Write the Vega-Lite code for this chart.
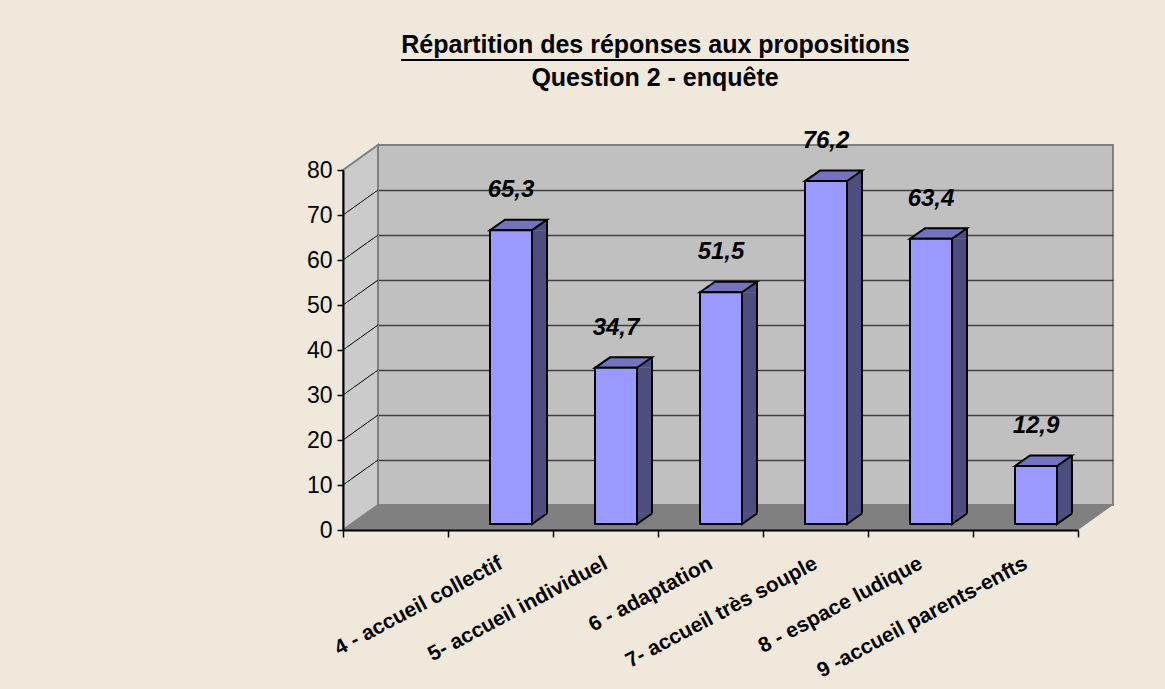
{
  "$schema": "https://vega.github.io/schema/vega-lite/v6.json",
  "width": 735,
  "height": 360,
  "autosize": {"type": "none"},
  "padding": {"left": 378, "top": 145, "right": 52, "bottom": 184},
  "background": "#F0E8DA",
  "config": {
    "view": {"fill": "#C0C0C0", "stroke": "#808080", "strokeWidth": 2},
    "font": "Liberation Sans",
    "locale": {"number": {"decimal": ",", "thousands": " ", "grouping": [3], "currency": ["", " €"]}}
  },
  "title": {
    "text": "Répartition des réponses aux propositions",
    "font": "Liberation Sans",
    "fontSize": 25,
    "fontWeight": "bold",
    "color": "#000000",
    "anchor": "middle",
    "frame": "group",
    "dx": -90,
    "offset": -2
  },
  "data": {
    "values": [
      {"cat": "4 - accueil collectif", "value": 65.3},
      {"cat": "5- accueil individuel", "value": 34.7},
      {"cat": "6 - adaptation", "value": 51.5},
      {"cat": "7- accueil très souple", "value": 76.2},
      {"cat": "8 - espace ludique", "value": 63.4},
      {"cat": "9 -accueil parents-enfts", "value": 12.9}
    ]
  },
  "layer": [
    {
      "mark": {"type": "rule", "opacity": 0},
      "encoding": {
        "y": {
          "datum": 0,
          "type": "quantitative",
          "scale": {"domain": [0, 80], "nice": false},
          "axis": {
            "orient": "left",
            "grid": true,
            "values": [10, 20, 30, 40, 50, 60, 70],
            "gridColor": "#404040",
            "gridWidth": 1.5,
            "labels": false,
            "ticks": false,
            "domain": false,
            "title": null
          }
        }
      }
    },
    {
      "encoding": {
        "x": {
          "field": "cat",
          "type": "nominal",
          "sort": null,
          "scale": {
            "domain": [" ", "4 - accueil collectif", "5- accueil individuel", "6 - adaptation", "7- accueil très souple", "8 - espace ludique", "9 -accueil parents-enfts"],
            "range": [-35, 700],
            "paddingInner": 0,
            "paddingOuter": 0
          },
          "axis": {
            "title": null,
            "orient": "bottom",
            "offset": 25,
            "tickBand": "extent",
            "labelAngle": -28,
            "labelAlign": "right",
            "labelBaseline": "middle",
            "labelFont": "Liberation Sans",
            "labelFontWeight": "bold",
            "labelFontSize": 21,
            "labelColor": "#000000",
            "labelPadding": 25,
            "labelLimit": 0,
            "labelOverlap": false,
            "domainColor": "#000000",
            "domainWidth": 2,
            "tickColor": "#000000",
            "tickSize": 7,
            "tickWidth": 1.5,
            "zindex": 1
          }
        },
        "y": {
          "field": "value",
          "type": "quantitative",
          "scale": {"domain": [0, 80], "range": [385, 25], "nice": false},
          "axis": {
            "orient": "left",
            "offset": 35,
            "title": null,
            "grid": false,
            "values": [0, 10, 20, 30, 40, 50, 60, 70, 80],
            "labelFont": "Liberation Sans",
            "labelFontSize": 23,
            "labelColor": "#000000",
            "labelPadding": 5,
            "domainColor": "#000000",
            "domainWidth": 2,
            "tickColor": "#000000",
            "tickSize": 6,
            "tickWidth": 1.5,
            "zindex": 1
          }
        }
      },
      "layer": [
        {
          "transform": [{"filter": {"field": "cat", "equal": "4 - accueil collectif"}}],
          "mark": {"type": "point", "shape": "M-157.5,0L-122.5,-25L612.5,-25L577.5,0Z", "size": 4, "filled": true, "fill": "#808080", "strokeWidth": 0, "opacity": 1},
          "encoding": {"y": {"datum": 0}}
        },
        {
          "transform": [{"filter": {"field": "cat", "equal": "4 - accueil collectif"}}],
          "mark": {"type": "point", "shape": "M-157.5,0L-122.5,-25L-122.5,-385L-157.5,-360Z", "size": 4, "filled": true, "fill": "#CBCBCB", "stroke": "#808080", "strokeWidth": 2, "opacity": 1},
          "encoding": {"y": {"datum": 0}}
        },
        {
          "transform": [{"filter": {"field": "cat", "equal": "4 - accueil collectif"}}],
          "mark": {"type": "point", "shape": "M-157.5,-45L-122.5,-70M-157.5,-90L-122.5,-115M-157.5,-135L-122.5,-160M-157.5,-180L-122.5,-205M-157.5,-225L-122.5,-250M-157.5,-270L-122.5,-295M-157.5,-315L-122.5,-340", "size": 4, "filled": false, "stroke": "#000000", "strokeWidth": 1, "opacity": 1},
          "encoding": {"y": {"datum": 0}}
        },
        {
          "transform": [{"filter": {"field": "cat", "equal": "4 - accueil collectif"}}],
          "mark": {"type": "point", "shape": "M-99.5,-110L408.5,-110", "size": 4, "filled": false, "stroke": "#000000", "strokeWidth": 2, "opacity": 1},
          "encoding": {"y": {"datum": 80}}
        },
        {
          "transform": [{"filter": {"field": "cat", "equal": "4 - accueil collectif"}}],
          "mark": {"type": "text", "text": "Question 2 - enquête", "dx": 154.5, "dy": -84, "baseline": "alphabetic", "align": "center", "font": "Liberation Sans", "fontSize": 25, "fontWeight": "bold", "color": "#000000"},
          "encoding": {"y": {"datum": 80}}
        },
        {
          "mark": {"type": "bar", "width": 15, "xOffset": 39, "yOffset": -6, "y2Offset": -16.5, "fill": "#4D4D80", "strokeWidth": 0},
          "encoding": {"y2": {"datum": 0}}
        },
        {
          "mark": {"type": "point", "shape": "M31.5,-6L46.5,-16.5L46.5,-6Z", "size": 4, "filled": true, "fill": "#4D4D80", "strokeWidth": 0, "opacity": 1}
        },
        {
          "mark": {"type": "point", "shape": "M31.5,-16.5L31.5,-6L46.5,-16.5", "size": 4, "filled": true, "fill": "#4D4D80", "stroke": "#000000", "strokeWidth": 2, "opacity": 1},
          "encoding": {"y": {"datum": 0}}
        },
        {
          "mark": {"type": "rule", "xOffset": 46.5, "yOffset": -16.5, "y2Offset": -16.5, "stroke": "#000000", "strokeWidth": 2},
          "encoding": {"y2": {"datum": 0}}
        },
        {
          "mark": {"type": "point", "shape": "M-10.5,-6L31.5,-6L46.5,-16.5L4.5,-16.5Z", "size": 4, "filled": true, "fill": "#7373BF", "stroke": "#000000", "strokeWidth": 2, "opacity": 1}
        },
        {
          "mark": {"type": "bar", "width": 42, "xOffset": 10.5, "yOffset": -6, "y2Offset": -6, "fill": "#9999FF", "stroke": "#000000", "strokeWidth": 2},
          "encoding": {"y2": {"datum": 0}}
        },
        {
          "mark": {"type": "text", "dx": 10.5, "dy": -46, "baseline": "middle", "align": "center", "font": "Liberation Sans", "fontSize": 24, "fontWeight": "bold", "fontStyle": "italic", "color": "#000000"},
          "encoding": {"text": {"field": "value", "type": "quantitative", "format": ".1f"}}
        }
      ]
    }
  ],
  "resolve": {"scale": {"y": "independent"}}
}
